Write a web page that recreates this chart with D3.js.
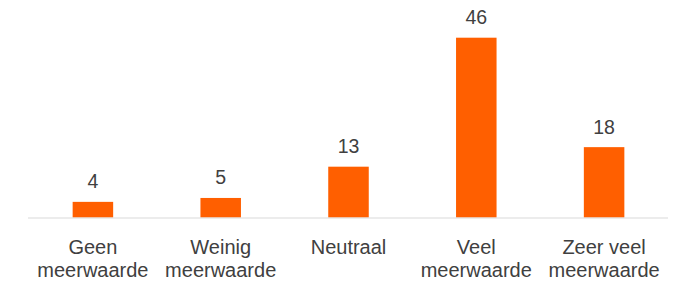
<!DOCTYPE html>
<html>
<head>
<meta charset="utf-8">
<script src="https://cdn.jsdelivr.net/npm/d3@7"></script>
<style>
  html, body { margin: 0; padding: 0; background: #fff; }
  svg { display: block; font-family: "Liberation Sans", Arial, sans-serif; }
</style>
</head>
<body>
<svg id="chart" width="675" height="286"></svg>
<script>
const categories = [
  ["Geen", "meerwaarde"],
  ["Weinig", "meerwaarde"],
  ["Neutraal"],
  ["Veel", "meerwaarde"],
  ["Zeer veel", "meerwaarde"],
];
const values = [4, 5, 13, 46, 18];

const svg = d3.select("#chart");
const margin = { left: 29, right: 7, top: 37.7, bottom: 68.5 };
const width = 675;
const height = 286;
const baseY = height - margin.bottom;

const keys = categories.map((c) => c.join(" "));

const x = d3
  .scaleBand()
  .domain(keys)
  .range([margin.left, width - margin.right])
  .paddingInner(0.683)
  .paddingOuter(0.3415);

const y = d3
  .scaleLinear()
  .domain([0, 46])
  .range([baseY, margin.top]);

const rows = keys.map((k, i) => ({ key: k, lines: categories[i], value: values[i] }));

svg
  .append("g")
  .selectAll("rect")
  .data(rows)
  .join("rect")
  .attr("x", (d) => x(d.key))
  .attr("y", (d) => y(d.value))
  .attr("width", x.bandwidth())
  .attr("height", (d) => baseY - y(d.value))
  .attr("fill", "#ff5f00");

// baseline
svg
  .append("line")
  .attr("x1", margin.left - 1)
  .attr("x2", width - margin.right)
  .attr("y1", baseY + 0.5)
  .attr("y2", baseY + 0.5)
  .attr("stroke", "#d9d9d9")
  .attr("stroke-width", 1);

svg
  .append("g")
  .selectAll("text")
  .data(rows)
  .join("text")
  .attr("x", (d) => x(d.key) + x.bandwidth() / 2)
  .attr("y", (d) => y(d.value) - 13.5)
  .attr("text-anchor", "middle")
  .attr("font-size", 19.5)
  .attr("fill", "#404040")
  .text((d) => d.value);

const catLabel = svg
  .append("g")
  .selectAll("text")
  .data(rows)
  .join("text")
  .attr("text-anchor", "middle")
  .attr("font-size", 20)
  .attr("fill", "#404040");

catLabel
  .selectAll("tspan")
  .data((d) => d.lines.map((t) => ({ t, cx: x(d.key) + x.bandwidth() / 2 })))
  .join("tspan")
  .attr("x", (d) => d.cx)
  .attr("y", (d, i) => baseY + 36.5 + i * 23)
  .text((d) => d.t);
</script>
</body>
</html>
